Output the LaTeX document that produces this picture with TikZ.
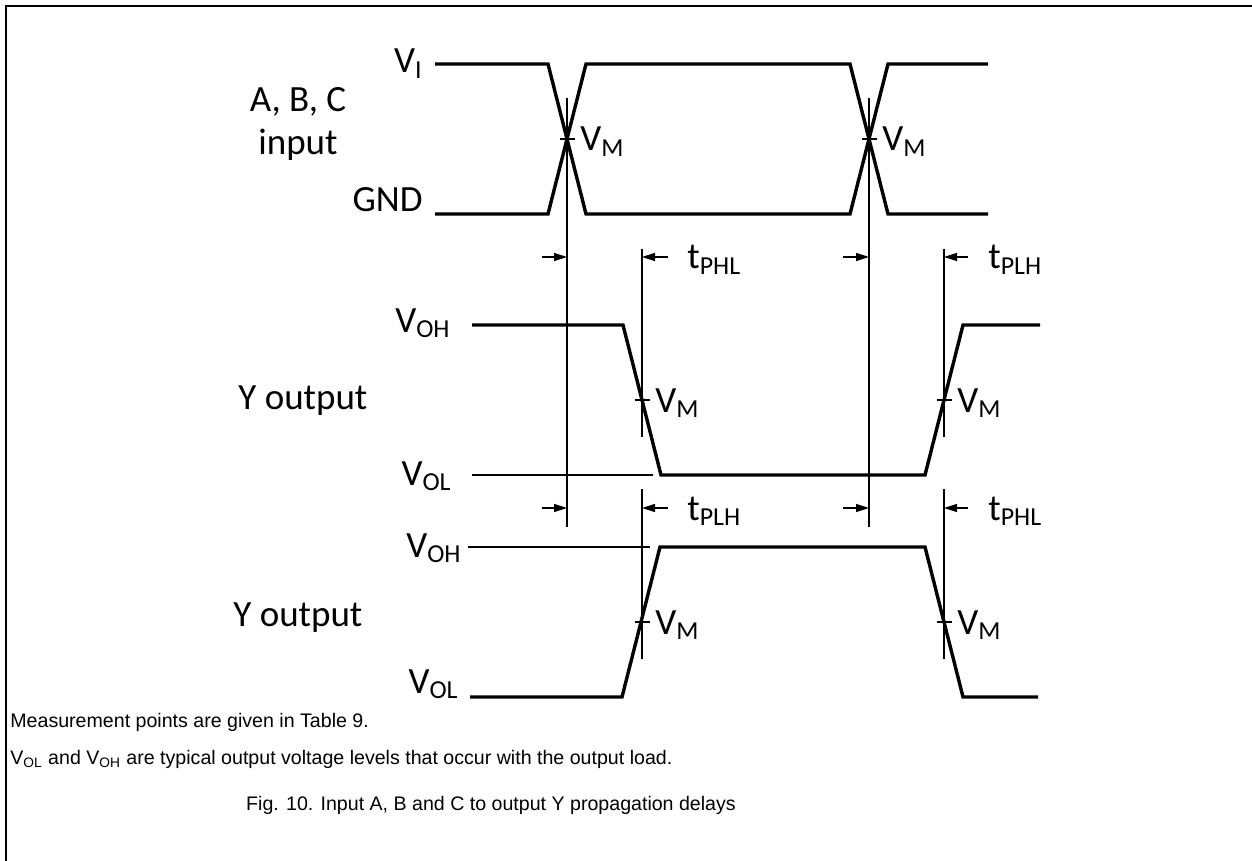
\documentclass[tikz,border=0pt]{standalone}
\usepackage{fontspec}
\setmainfont{Carlito}
\newfontfamily\notefont{Liberation Sans}
\usetikzlibrary{calc}
\usetikzlibrary{arrows.meta}

\tikzset{
  sig/.style={line width=1.7pt, line join=miter},
  ref/.style={line width=0.7pt},
  lbl/.style={font=\fontsize{18.5}{22}\selectfont, inner sep=0pt},
  note/.style={font=\notefont\fontsize{9.8}{11.5}\selectfont, inner sep=0pt},
  dly/.style={line width=0.7pt, -{Triangle[length=6.5pt,width=4pt]}},
}

\begin{document}
\begin{tikzpicture}[x=0.5pt, y=-0.5pt]
            \useasboundingbox (0,0) rectangle (1252,861);
            \draw[line width=1.2pt] (6,861) -- (6,6) -- (1252,6);
            % waveforms
            \draw[sig] (435,64) -- (548,64) -- (586,214) -- (850,214) -- (888,64) -- (988,64);
            \draw[sig] (435,214) -- (548,214) -- (586,64) -- (850,64) -- (888,214) -- (988,214);
            \draw[sig] (472,325) -- (623,325) -- (661,475) -- (925,475) -- (963,325) -- (1040,325);
            \draw[ref] (472,475) -- (653,475);
            \draw[sig] (470,697) -- (622,697) -- (660,547) -- (925,547) -- (963,697) -- (1038,697);
            \draw[ref] (468,547) -- (650,547);
            % reference lines
            \draw[ref] (567,98) -- (567,527);
            \draw[ref] (869,98) -- (869,527);
            \draw[ref] (642,249) -- (642,437);
            \draw[ref] (944,249) -- (944,437);
            \draw[ref] (642,489) -- (642,659);
            \draw[ref] (944,489) -- (944,659);
            \foreach \x/\y [count=\i] in {567/139, 869/139, 642/400, 944/400, 642/622, 944/622} {
                \draw[ref] (\x-7.5,\y) -- (\x+7.5,\y);
                \node[lbl, anchor=base west] (VM\i) at (\x+13,\y+12) {V\textsubscript{M}};
            }
            \foreach \y/\ta/\tb in {257/PHL/PLH, 508/PLH/PHL} {
                \draw[dly] (542,\y) -- (567,\y);
                \draw[dly] (668,\y) -- (642,\y);
                \draw[dly] (843,\y) -- (869,\y);
                \draw[dly] (968,\y) -- (944,\y);
                \node[lbl, anchor=base west] (t\ta\y) at (687,\y+12) {t\textsubscript{\ta}};
                \node[lbl, anchor=base west] (t\tb\y) at (988,\y+12) {t\textsubscript{\tb}};
            }
            % labels
            \node[lbl, anchor=base east] (VI) at (423,73) {V\textsubscript{I}};
            \node[lbl, anchor=base east] (GND) at (423,212) {GND};
            \node[lbl, anchor=base] (ABC) at (298,112) {A, B, C};
            \node[lbl, anchor=base] (INP) at (298,155) {input};
            \node[lbl, anchor=base east] (VOH1) at (451,332) {V\textsubscript{OH}};
            \node[lbl, anchor=base east] (VOL1) at (452,485) {V\textsubscript{OL}};
            \node[lbl, anchor=base west] (Y1) at (238,409) {Y output};
            \node[lbl, anchor=base east] (VOH2) at (462,557) {V\textsubscript{OH}};
            \node[lbl, anchor=base east] (VOL2) at (459,693) {V\textsubscript{OL}};
            \node[lbl, anchor=base west] (Y2) at (233,626) {Y output};
            \node[note, anchor=base west] (N1) at (10,727) {Measurement points are given in Table 9.};
            \node[note, anchor=base west] (N2) at (10,764) {V\textsubscript{OL} and V\textsubscript{OH} are typical output voltage levels that occur with the output load.};
            \node[note, anchor=base] (CAP) at (491,810) {Fig. 10. Input A, B and C to output Y propagation delays};
\end{tikzpicture}
\end{document}
